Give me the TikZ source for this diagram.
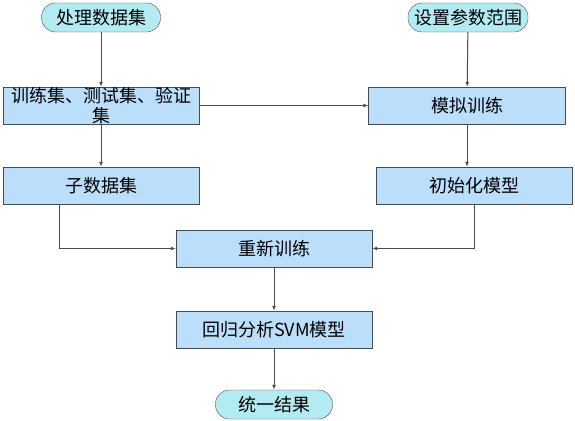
\documentclass[tikz,border=0pt]{standalone}
\usepackage{fontspec}
\setmainfont{Noto Sans CJK SC}
\definecolor{EndCyan}{RGB}{178,235,242}
\definecolor{StepBlue}{RGB}{187,222,251}
\definecolor{LineGray}{RGB}{75,75,75}
\usetikzlibrary{positioning,arrows.meta}
\tikzset{>={Latex[length=5pt,width=4pt]}}
\tikzset{endnode/.style={draw=LineGray,fill=EndCyan,rounded corners=14pt,minimum height=29pt,inner sep=0pt,font=\fontsize{18}{20}\selectfont}}
\tikzset{stepnode/.style={draw=LineGray,fill=StepBlue,minimum height=37pt,minimum width=196pt,inner sep=0pt,font=\fontsize{18}{20}\selectfont}}
\tikzset{flow/.style={draw=LineGray,line width=1pt}}

\begin{document}
\begin{tikzpicture}[x=1pt,y=-1pt]
    \useasboundingbox[fill=white] (0,0) rectangle (575,420);

    \node[endnode, minimum width=119pt] (data) at (101,17.5) {处理数据集};
    \node[endnode, minimum width=120pt] (param) at (468,17.5) {设置参数范围};
    \node[stepnode, text width=190pt, align=center] (sets) at (101,105.5) {训练集、测试集、验证\\集};
    \node[stepnode, minimum width=197pt] (sim) at (467,105.5) {模拟训练};
    \node[stepnode] (sub) at (101,185.5) {子数据集};
    \node[stepnode] (init) at (474,185.5) {初始化模型};
    \node[stepnode] (retrain) at (274,248.5) {重新训练};
    \node[stepnode] (svm) at (274,329.5) {回归分析SVM模型};
    \node[endnode, minimum width=117pt] (result) at (274,404.5) {统一结果};

    \foreach \i/\j in {data/sets, sets/sub, param/sim, retrain/svm, svm/result} {
        \draw[flow,->] (\i) -- (\j);
    }
    \draw[flow,->] (sets) -- (sim);
    \draw[flow,->] (sim.south) -- (sim.south |- init.north);
    \draw[flow,->] ([xshift=-42pt]sub.south) |- (retrain.west);
    \draw[flow,->] (init.south) |- (retrain.east);
\end{tikzpicture}
\end{document}
